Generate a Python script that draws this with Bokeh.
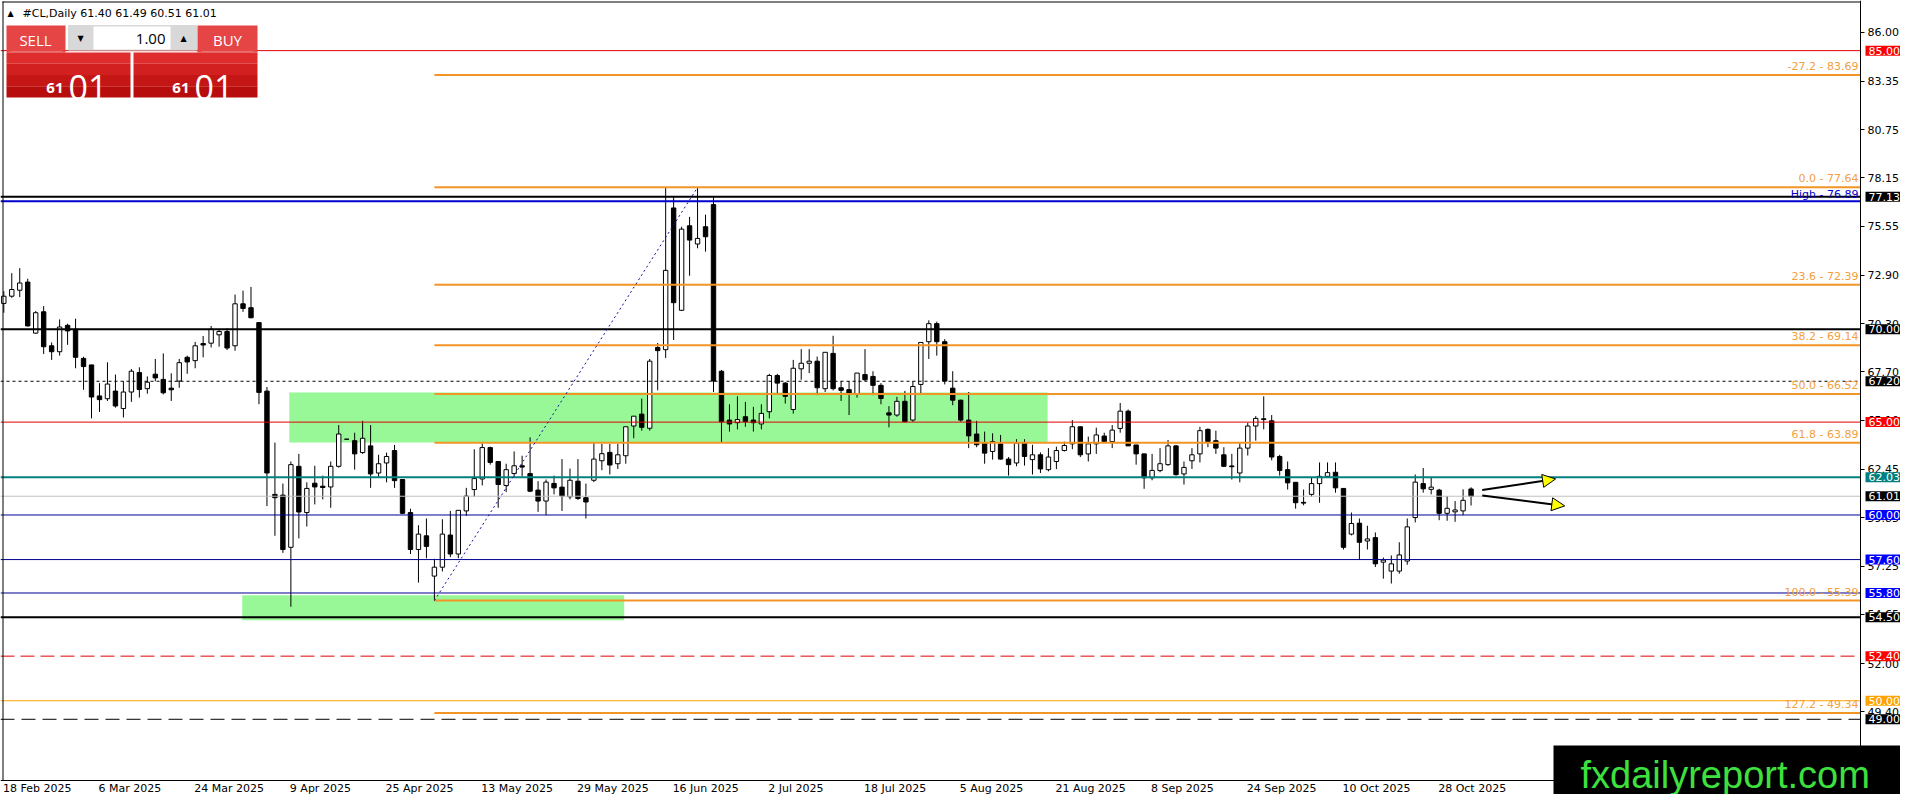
import numpy as np
from bokeh.plotting import figure
from bokeh.models import (Range1d, FixedTicker, PrintfTickFormatter, BoxAnnotation, LinearAxis,
                          Label, Arrow, NormalHead)
from bokeh.embed import file_html
from bokeh.resources import INLINE

# ---------------- data ----------------
opens = [71.39, 71.78, 72.10, 72.54, 69.79, 70.94, 69.11, 68.79, 70.21, 70.00,
         68.43, 68.08, 66.41, 66.26, 66.67, 65.73, 66.62, 67.67, 66.80, 67.58,
         67.30, 66.83, 67.21, 68.49, 68.31, 69.23, 69.25, 69.70, 69.88, 69.11,
         71.37, 71.16, 70.36, 66.67, 61.11, 61.07, 58.26, 62.62, 60.13, 61.71,
         61.55, 61.51, 62.62, 64.08, 64.00, 63.36, 63.72, 62.26, 62.80, 63.47,
         61.91, 60.13, 58.14, 58.88, 56.71, 57.19, 58.92, 57.90, 60.22, 61.37,
         61.94, 63.63, 62.88, 61.59, 62.23, 62.65, 62.23, 61.34, 60.75, 61.70,
         61.50, 60.98, 61.82, 60.93, 61.87, 62.92, 63.37, 62.76, 63.19, 64.79,
         65.43, 64.67, 69.02, 68.90, 76.53, 71.02, 75.57, 74.59, 75.52, 76.71,
         67.74, 65.11, 64.97, 65.29, 65.11, 64.90, 65.56, 67.51, 67.10, 65.68,
         67.87, 68.17, 68.28, 66.80, 68.70, 66.85, 66.75, 66.53, 67.56, 67.46,
         66.98, 65.50, 65.38, 66.12, 65.11, 67.03, 69.33, 70.30, 69.33, 66.83,
         66.18, 65.11, 64.36, 63.87, 63.42, 63.83, 63.01, 62.80, 63.87, 62.98,
         63.24, 62.44, 62.88, 63.47, 63.83, 64.75, 63.29, 63.83, 64.25, 63.95,
         64.66, 65.59, 63.77, 63.29, 62.00, 62.39, 62.71, 63.72, 62.21, 62.92,
         63.29, 64.61, 64.00, 63.24, 62.64, 62.26, 63.60, 64.79, 65.18, 65.07,
         63.15, 62.44, 61.76, 60.68, 61.11, 61.69, 62.08, 62.30, 61.43, 58.97,
         59.56, 58.60, 58.78, 57.46, 56.98, 56.98, 57.52, 59.86, 61.69, 61.38,
         61.34, 60.09, 60.17, 60.22, 61.40]
highs = [72.05, 73.02, 73.29, 72.72, 70.98, 71.25, 69.29, 70.53, 70.30, 70.57,
         68.52, 68.08, 67.10, 68.22, 67.56, 67.20, 67.86, 67.95, 67.46, 68.40,
         68.70, 67.63, 68.40, 68.58, 69.32, 69.64, 70.18, 70.00, 70.05, 71.87,
         72.08, 72.28, 70.36, 66.89, 63.90, 61.69, 62.88, 63.29, 61.76, 62.65,
         62.12, 62.88, 64.84, 64.08, 64.43, 65.07, 64.84, 63.24, 63.36, 63.77,
         61.94, 60.34, 59.45, 59.81, 57.64, 59.77, 60.22, 60.25, 61.46, 63.54,
         63.86, 63.68, 62.90, 62.76, 63.42, 63.19, 64.18, 61.82, 61.91, 62.12,
         63.01, 62.50, 63.01, 61.69, 63.90, 63.83, 63.83, 63.83, 64.75, 65.32,
         66.27, 68.40, 69.26, 77.62, 77.12, 75.52, 76.05, 77.64, 76.17, 77.12,
         67.81, 65.96, 66.39, 66.09, 65.82, 65.96, 67.60, 67.60, 67.16, 68.35,
         68.93, 68.93, 68.53, 68.76, 69.65, 67.21, 67.21, 67.64, 68.93, 67.74,
         67.10, 65.86, 66.36, 66.68, 67.21, 69.29, 70.48, 70.41, 69.47, 67.74,
         66.21, 66.62, 65.07, 64.49, 64.40, 64.31, 63.12, 64.08, 64.08, 63.78,
         63.37, 63.60, 63.68, 63.95, 65.11, 64.75, 64.22, 64.70, 64.43, 64.84,
         66.03, 65.68, 63.77, 63.29, 63.29, 63.60, 64.04, 63.77, 62.88, 63.60,
         64.75, 64.66, 64.54, 63.65, 63.29, 63.86, 64.97, 65.32, 66.39, 65.38,
         63.24, 62.88, 61.76, 61.37, 62.00, 62.83, 62.83, 62.83, 61.43, 60.13,
         59.81, 59.42, 59.06, 57.71, 57.82, 58.53, 59.81, 62.18, 62.53, 61.99,
         61.41, 61.02, 60.75, 61.38, 61.49]
lows = [70.89, 71.69, 71.73, 70.14, 69.75, 68.67, 68.35, 68.58, 69.16, 67.90,
        66.74, 65.20, 65.55, 66.14, 65.78, 65.25, 66.09, 66.32, 66.53, 67.20,
        66.49, 66.14, 66.85, 67.60, 67.90, 68.49, 69.02, 69.06, 68.88, 68.84,
        70.94, 70.59, 65.96, 60.48, 58.88, 57.96, 55.06, 58.74, 59.38, 60.57,
        60.84, 60.39, 62.55, 64.08, 62.44, 63.29, 61.46, 62.00, 61.76, 61.46,
        60.05, 57.90, 56.36, 57.67, 55.39, 56.96, 57.73, 57.67, 59.95, 60.98,
        61.59, 62.71, 60.39, 61.23, 62.00, 62.08, 61.23, 60.17, 59.99, 61.11,
        60.22, 60.84, 60.81, 59.81, 61.77, 62.41, 62.18, 62.48, 62.76, 64.13,
        64.54, 64.54, 66.71, 68.45, 69.42, 70.98, 72.88, 74.36, 74.18, 66.62,
        63.92, 64.49, 64.61, 64.75, 64.49, 64.61, 65.20, 66.57, 66.00, 65.46,
        67.28, 67.64, 66.45, 66.62, 66.71, 66.14, 65.38, 66.32, 67.21, 66.45,
        65.96, 64.72, 65.29, 65.02, 65.02, 66.57, 68.40, 68.58, 67.03, 65.91,
        65.02, 63.60, 63.65, 62.76, 62.98, 62.98, 62.12, 62.62, 62.66, 62.18,
        62.26, 62.35, 62.47, 63.42, 63.54, 63.12, 62.88, 63.29, 63.92, 63.60,
        64.43, 63.72, 62.71, 61.41, 61.87, 62.30, 62.65, 62.12, 61.64, 62.48,
        62.83, 63.65, 63.29, 62.58, 61.91, 61.76, 63.20, 64.00, 64.61, 62.94,
        62.12, 61.37, 60.34, 60.52, 60.98, 60.66, 62.00, 61.20, 58.14, 58.90,
        57.60, 58.14, 57.20, 56.57, 56.31, 56.84, 57.32, 59.60, 61.20, 61.11,
        59.72, 59.69, 59.63, 59.99, 60.51]
closes = [71.78, 72.14, 72.49, 70.18, 70.89, 69.06, 68.79, 70.12, 69.91, 68.49,
          67.99, 66.35, 66.21, 67.05, 65.87, 66.62, 67.74, 66.76, 67.15, 67.38,
          66.58, 66.74, 68.20, 68.24, 69.11, 69.15, 70.00, 69.88, 68.99, 71.37,
          71.12, 70.62, 66.60, 62.26, 60.93, 58.14, 62.71, 60.16, 61.43, 61.51,
          61.48, 62.62, 64.36, 64.08, 63.29, 64.13, 62.21, 62.76, 63.15, 61.85,
          60.09, 58.14, 58.97, 58.31, 57.19, 58.97, 57.90, 60.25, 61.02, 61.96,
          63.63, 62.83, 61.64, 62.44, 62.65, 62.58, 61.28, 60.75, 61.77, 61.46,
          61.02, 61.87, 60.89, 60.70, 63.01, 63.30, 62.69, 63.24, 64.75, 65.32,
          64.72, 68.28, 68.85, 73.17, 71.43, 75.39, 74.80, 74.89, 74.98, 67.21,
          65.02, 64.90, 65.14, 65.02, 64.97, 65.47, 67.51, 67.10, 66.39, 67.90,
          68.17, 68.28, 66.85, 68.76, 66.80, 66.71, 66.57, 67.64, 67.28, 66.98,
          66.27, 65.38, 66.12, 65.02, 66.92, 69.29, 70.30, 69.33, 67.21, 66.18,
          65.11, 64.26, 63.78, 63.33, 63.95, 63.01, 62.71, 63.87, 63.15, 63.24,
          62.48, 63.12, 63.47, 63.74, 64.75, 63.24, 63.83, 64.31, 63.95, 64.57,
          65.59, 63.72, 63.29, 62.00, 62.40, 62.76, 63.72, 62.17, 62.56, 63.24,
          64.54, 63.95, 63.60, 62.62, 62.60, 63.60, 64.79, 65.20, 65.14, 63.12,
          62.40, 61.73, 60.66, 60.64, 61.69, 62.08, 62.28, 61.46, 58.26, 59.54,
          58.53, 58.71, 57.37, 57.57, 57.37, 57.85, 59.36, 61.77, 61.41, 61.50,
          60.09, 60.36, 60.27, 60.79, 61.01]

date_ticks = [0, 12, 24, 36, 48, 60, 72, 84, 96, 108, 120, 132, 144, 156, 168, 180]
date_labels = ["18 Feb 2025", "6 Mar 2025", "24 Mar 2025", "9 Apr 2025", "25 Apr 2025",
               "13 May 2025", "29 May 2025", "16 Jun 2025", "2 Jul 2025", "18 Jul 2025",
               "5 Aug 2025", "21 Aug 2025", "8 Sep 2025", "24 Sep 2025", "10 Oct 2025",
               "28 Oct 2025"]
price_ticks = [86.00, 83.35, 80.75, 78.15, 75.55, 72.90, 70.30, 67.70, 65.10, 62.45,
               59.85, 57.25, 54.65, 52.00, 49.40, 46.80]

level_prices = [85.00, 77.13, 76.89, 70.00, 67.20, 65.00, 62.03, 61.01, 60.00, 57.60,
                55.80, 54.50, 52.40, 50.00, 49.00]
box_prices = [85.00, 77.13, 70.00, 67.20, 65.00, 62.03, 61.01, 60.00, 57.60, 55.80,
              54.50, 52.40, 50.00, 49.00]

fib_ratios = ["-27.2", "0.0", "23.6", "38.2", "50.0", "61.8", "100.0", "127.2"]
fib_levels = [83.69, 77.64, 72.39, 69.14, 66.52, 63.89, 55.39, 49.34]
fib_anchor_bars = [54, 87]
fib_anchor_prices = [55.39, 77.64]
high_label_price = 76.89

zone_bars = [(35.8, 130.9), (29.9, 77.8)]
zone_prices = [(63.9, 66.6), (54.33, 55.68)]

arrow_start = [(185.4, 61.34), (185.4, 61.05)]
arrow_end = [(194.6, 61.94), (195.75, 60.49)]

title_text = "#CL,Daily  61.40 61.49 60.51 61.01"

# ---------------- styles ----------------
level_style = {
    85.00: ("#E00000", 1, "solid"), 77.13: ("black", 2, "solid"), 76.89: ("#0000CD", 2, "solid"),
    70.00: ("black", 2, "solid"), 67.20: ("black", 1, "3 3"), 65.00: ("#E00000", 1, "solid"),
    62.03: ("#008080", 2, "solid"), 61.01: ("#C0C0C0", 1, "solid"), 60.00: ("#000090", 1, "solid"),
    57.60: ("#000090", 1, "solid"), 55.80: ("#000090", 1, "solid"), 54.50: ("black", 2, "solid"),
    52.40: ("#E00000", 1, "14 6"), 50.00: ("#FFA500", 1, "solid"), 49.00: ("black", 1, "14 7"),
}
box_color = {85.00: "#FF0000", 77.13: "black", 70.00: "black", 67.20: "black", 65.00: "#FF0000",
             62.03: "#008080", 61.01: "black", 60.00: "#0000FF", 57.60: "#0000FF", 55.80: "#0000FF",
             54.50: "black", 52.40: "#FF0000", 50.00: "#FFA500", 49.00: "black"}
FIB_LINE = "#F39426"
FIB_TEXT = "#F2A03E"
FONT = "DejaVu Sans"

W, H = 1900, 794
FH = H
XR = (-0.4137, 237.854)     # the whole canvas is the plotting frame
YR = (44.951, 87.70)
AXIS_X = 232.8375           # position of the price axis (bar units)
AXIS_Y = 45.71              # position of the time axis (price units)
BAR_PX = W / (XR[1] - XR[0])

p = figure(width=W, height=H, output_backend="svg", toolbar_location=None,
           x_range=Range1d(*XR), y_range=Range1d(*YR),
           x_axis_location=None, y_axis_location=None,
           min_border_left=0, min_border_top=0, min_border_right=0, min_border_bottom=0)
p.grid.visible = False
p.outline_line_color = None
p.background_fill_color = "white"
p.border_fill_color = "white"

# ---- price axis (right side, fixed inside the canvas)
yax = LinearAxis(fixed_location=AXIS_X, ticker=FixedTicker(ticks=price_ticks),
                 formatter=PrintfTickFormatter(format="%.2f"))
yax.major_tick_in = 0
yax.major_tick_out = 4
yax.minor_tick_line_color = None
yax.major_label_standoff = 3
yax.major_label_text_font = FONT
yax.major_label_text_font_size = "11px"
yax.major_label_text_color = "black"
yax.axis_line_color = "black"
p.add_layout(yax, "right")

# ---- time axis: labels start at their bar (MT4 style)
CW = {" ": 3.5, "F": 6.34, "e": 6.77, "b": 6.98, "M": 9.49, "a": 6.74, "r": 4.52, "A": 7.52,
      "p": 6.98, "y": 6.51, "J": 3.24, "u": 6.97, "n": 6.97, "l": 3.06, "g": 6.98, "S": 6.98,
      "O": 8.67, "c": 6.05, "t": 4.31}
def text_w(s):
    return sum(7.0 if ch.isdigit() else CW.get(ch, 6.8) for ch in s)
tick_pos = [b + (text_w(s) / 2 - 1.0) / BAR_PX for b, s in zip(date_ticks, date_labels)]
xax = LinearAxis(fixed_location=AXIS_Y, ticker=FixedTicker(ticks=tick_pos))
xax.major_label_overrides = {t: s for t, s in zip(tick_pos, date_labels)}
xax.major_tick_in = 0
xax.major_tick_out = 0
xax.minor_tick_line_color = None
xax.major_label_standoff = 2
xax.major_label_text_font = FONT
xax.major_label_text_font_size = "11px"
xax.major_label_text_color = "black"
xax.axis_line_color = "black"
p.add_layout(xax, "below")

# zones (background)
for (b0, b1), (y0, y1) in zip(zone_bars, zone_prices):
    p.add_layout(BoxAnnotation(left=b0, right=b1, bottom=y0, top=y1, fill_color="#98F898",
                               fill_alpha=1, line_color=None, level="underlay"))

# candles
idx = np.arange(len(opens))
o = np.array(opens); hh = np.array(highs); ll = np.array(lows); c = np.array(closes)
up = c >= o
p.segment(idx, hh, idx, ll, line_color="black", line_width=1)
p.vbar(x=idx[up], bottom=o[up], top=c[up], width=0.55, fill_color="white", line_color="black", line_width=1)
p.vbar(x=idx[~up], bottom=c[~up], top=o[~up], width=0.55, fill_color="black", line_color="black", line_width=1)

# horizontal levels (from left edge to the price axis)
for lv in level_prices:
    col, lw, dash = level_style[lv]
    p.segment(x0=[XR[0]], y0=[lv], x1=[AXIS_X], y1=[lv], line_color=col, line_width=lw, line_dash=dash)

# fibonacci
fx0 = fib_anchor_bars[0]
p.segment(x0=[fx0] * len(fib_levels), y0=fib_levels, x1=[AXIS_X] * len(fib_levels), y1=fib_levels,
          line_color=FIB_LINE, line_width=2)
p.line(fib_anchor_bars, fib_anchor_prices, line_color="#1010A0", line_width=1, line_dash="2 3")
for r, lv in zip(fib_ratios, fib_levels):
    p.add_layout(Label(x=AXIS_X, y=lv, x_offset=-2, y_offset=2, text=f"{r} - {lv:.2f}",
                       text_align="right", text_baseline="bottom", text_color=FIB_TEXT,
                       text_font=FONT, text_font_size="11px"))
p.add_layout(Label(x=AXIS_X, y=high_label_price, x_offset=-2, y_offset=0,
                   text=f"High - {high_label_price:.2f}", text_align="right", text_baseline="bottom",
                   text_color="#0000CD", text_font=FONT, text_font_size="11px"))

# arrows
for (xs, ys), (xe, ye) in zip(arrow_start, arrow_end):
    p.add_layout(Arrow(x_start=xs, y_start=ys, x_end=xe, y_end=ye, line_color="black", line_width=2,
                       end=NormalHead(size=13, fill_color="#FFFF00", line_color="black", line_width=1)))

# price boxes on the axis
for bp in box_prices:
    p.add_layout(Label(x=AXIS_X, y=bp, x_offset=5, text=f"{bp:.2f}", text_align="left",
                       text_baseline="middle", text_color="white", text_font=FONT,
                       text_font_size="11px", background_fill_color=box_color[bp],
                       background_fill_alpha=1, level="overlay",
                       padding=dict(left=3, right=3, top=1, bottom=1)))

# ---------------- trading panel (screen px from the canvas top-left) ----------------
def sbox(l, t, r, b, color, line=None):
    p.add_layout(BoxAnnotation(left=l, right=r, top=FH - t, bottom=FH - b,
                               left_units="screen", right_units="screen",
                               top_units="screen", bottom_units="screen",
                               fill_color=color, fill_alpha=1,
                               line_color=line, line_width=1, level="overlay"))

def slabel(x, y, text, color="black", size="11px", font=FONT, align="left",
           baseline="middle", style="normal"):
    p.add_layout(Label(x=x, y=FH - y, x_units="screen", y_units="screen", text=text,
                       text_color=color, text_font_size=size, text_font=font,
                       text_align=align, text_baseline=baseline, text_font_style=style,
                       level="overlay"))

# frame border (left / top)
sbox(2, 1, 3, 780, "black")
sbox(2, 1, 1860, 2, "black")

slabel(10, 13, "\u25B2", size="8px", align="center")
slabel(22, 13, title_text)

sbox(6, 25, 65, 52, "#E54545")
sbox(197, 25, 257, 52, "#E54545")
sbox(10, 51, 62, 52, "#F39A9A")
sbox(201, 51, 253, 52, "#F39A9A")
sbox(68, 25, 196, 50, "#D8D8D8", line="#A8A8A8")
sbox(93, 26, 170, 49, "white")
bands = ["#DF2C2C", "#D22020", "#C51616", "#B70D0D"]
for k, col in enumerate(bands):
    t = 52 + k * 11.25
    sbox(6, t, 130, t + 11.25, col)
    sbox(133, t, 257, t + 11.25, col)

slabel(35, 39, "SELL", color="white", size="15px", font="Open Sans", align="center")
slabel(227, 39, "BUY", color="white", size="15px", font="Open Sans", align="center")
slabel(165, 38, "1.00", size="15px", font="Open Sans", align="right")
slabel(80, 38, "\u25BC", size="8px", align="center")
slabel(183, 38, "\u25B2", size="8px", align="center")
for rx in (63, 189):
    slabel(rx, 87, "61", color="white", size="15px", font="Open Sans", align="right",
           baseline="alphabetic", style="bold")
    slabel(rx + 5, 87, "01", color="white", size="34px", font="Open Sans", align="left",
           baseline="alphabetic")

# watermark
sbox(1553, 745, 1900, 794, "black")
slabel(1580, 774, "fxdailyreport.com", color="#3EE03E", size="38px", font="Liberation Sans",
       baseline="alphabetic")

open("out.html", "w").write(file_html(p, INLINE))
